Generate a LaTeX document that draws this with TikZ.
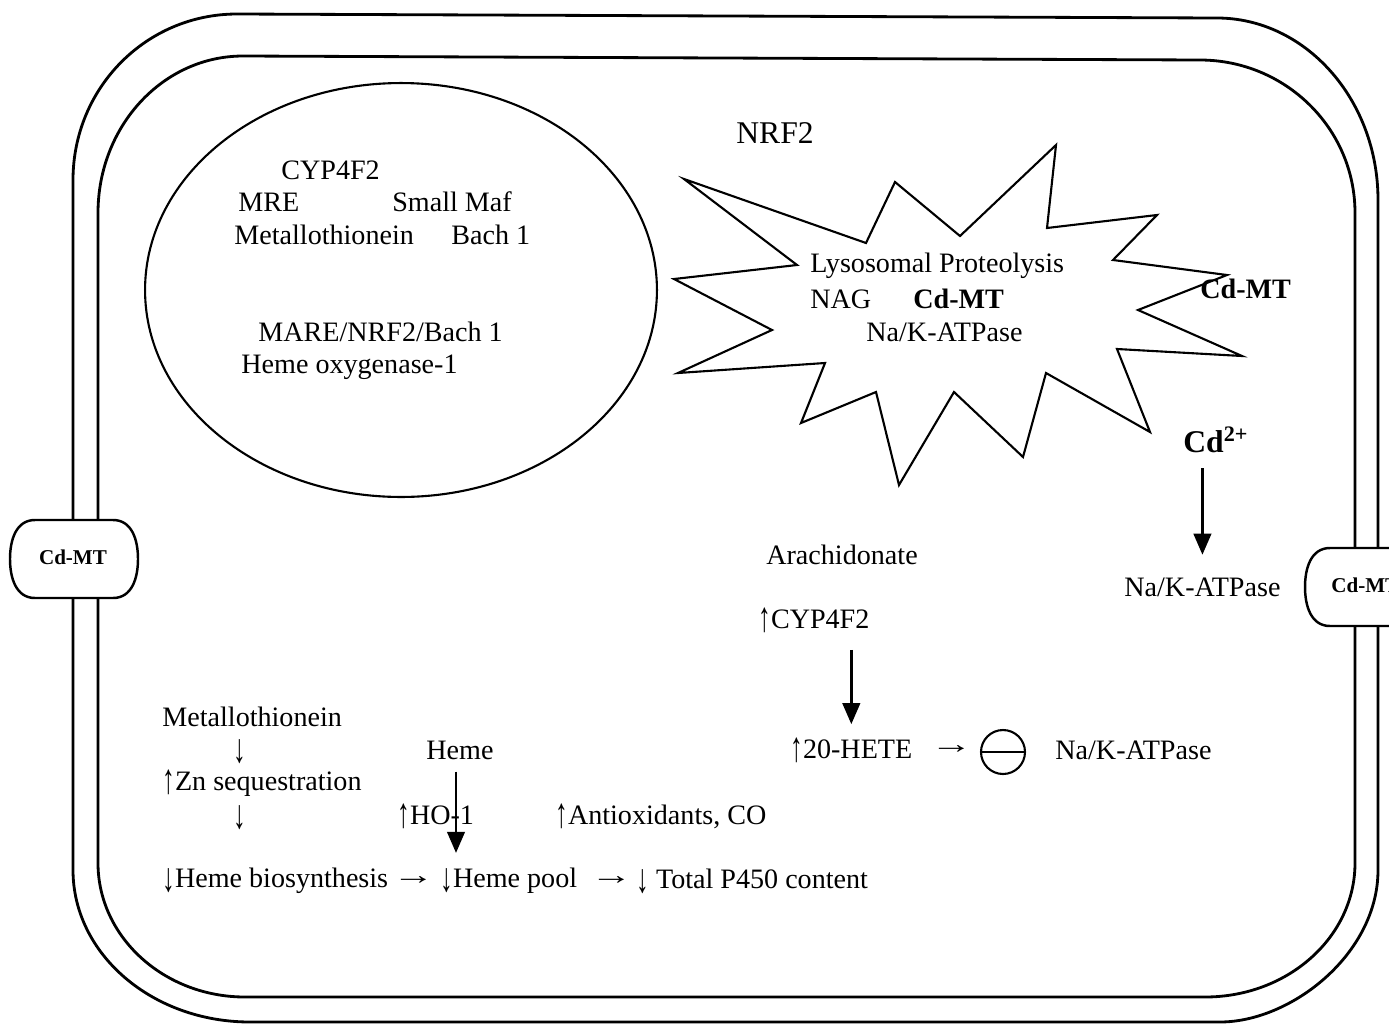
\documentclass[tikz,border=0pt]{standalone}
\usepackage{fontspec}
\setmainfont{Liberation Serif}
\usetikzlibrary{arrows.meta}
\newcommand{\myup}{\raisebox{-0.1em}{\scalebox{0.9}[1.5]{↑}}}
\newcommand{\mydn}{\raisebox{-0.15em}{\scalebox{0.9}[1.45]{↓}}}
\newcommand{\myra}{\scalebox{1.5}[1]{→}}
\tikzset{
  txt/.style={inner sep=0pt, anchor=west, font=\fontsize{16}{19}\selectfont},
  txtb/.style={inner sep=0pt, anchor=west, font=\fontsize{16}{19}\selectfont\bfseries},
  boxtxt/.style={inner sep=0pt, anchor=west, font=\fontsize{12}{14}\selectfont\bfseries},
  cellline/.style={line width=1.6pt},
  membox/.style={line width=1.4pt, fill=white},
  starline/.style={line width=1.2pt, line join=miter},
  bigarrow/.style={line width=1.4pt, -{Triangle[length=12pt,width=10pt]}},
}
\begin{document}
\begin{tikzpicture}[x=0.02cm, y=-0.02cm]
\useasboundingbox (0,0) rectangle (1389,1025);
\begin{scope}
\clip (0,0) rectangle (1389,1025);
% outer cell wall
\draw[cellline] (73,180) .. controls (73,88) and (146,14) .. (237,14)
  -- (1217,18) .. controls (1305,18) and (1378,99) .. (1378,200)
  -- (1378,870) .. controls (1378,954) and (1291,1022) .. (1220,1022)
  -- (250,1022) .. controls (152,1022) and (73,954) .. (73,870) -- cycle;
% inner cell wall
\draw[cellline] (98,213) .. controls (98,126) and (163,56) .. (243,56)
  -- (1200,60) .. controls (1285,60) and (1355,128) .. (1355,213)
  -- (1355,863) .. controls (1355,937) and (1288,997) .. (1205,997)
  -- (245,997) .. controls (164,997) and (98,937) .. (98,863) -- cycle;
% membrane transporters
\draw[membox] (35,520) -- (113,520) .. controls (132,520) and (138,540) .. (138,559)
  .. controls (138,578) and (132,598) .. (113,598) -- (35,598)
  .. controls (16,598) and (10,578) .. (10,559) .. controls (10,540) and (16,520) .. (35,520) -- cycle;
\node[boxtxt, anchor=center] (mtl) at (73,557) {Cd-MT};
\draw[membox] (1430,548) -- (1330,548) .. controls (1311,548) and (1305,568) .. (1305,587)
  .. controls (1305,606) and (1311,626) .. (1330,626) -- (1430,626) -- cycle;
\node[boxtxt] (mtr) at (1331,585) {Cd-MT};
\end{scope}

% nucleus
\draw[line width=1.2pt] (401,290) ellipse [x radius=5.12cm, y radius=4.14cm];
\node[txt] (cyp) at (281,170) {CYP4F2};
\node[txt] (mre) at (238,202) {MRE};
\node[txt] (maf) at (392,202) {Small Maf};
\node[txt] (mt) at (234,235) {Metallothionein};
\node[txt] (bach) at (451,235) {Bach 1};
\node[txt] (mare) at (258,332) {MARE/NRF2/Bach 1};
\node[txt] (hox) at (241,367) {Heme oxygenase-1};

% NRF2 star
\node[inner sep=0pt, font=\fontsize{18}{21}\selectfont] (nrf) at (775,133) {NRF2};
\draw[starline] (684,179) -- (866,243) -- (895,182) -- (960,236) -- (1056,145)
  -- (1047,228) -- (1157,215) -- (1113,260) -- (1227,275) -- (1138,310)
  -- (1242,356) -- (1117,349) -- (1150,432) -- (1046,373) -- (1023,457)
  -- (954,392) -- (899,485) -- (876,392) -- (801,423) -- (825,363)
  -- (678,373) -- (772,330) -- (674,279) -- (797,265) -- cycle;
\node[txt] (lys) at (810,266) {Lysosomal Proteolysis};
\node[txt] (nag) at (810,299) {NAG};
\node[txtb] (cdmts) at (913,299) {Cd-MT};
\node[txt] (naks) at (866,332) {Na/K-ATPase};
\node[txtb] (cdmtr) at (1200,289) {Cd-MT};

% Cd2+ pathway
\node[inner sep=0pt, anchor=west, font=\fontsize{18}{21}\selectfont\bfseries] (cd) at (1183,440) {Cd\textsuperscript{2+}};
\node[txt] (nak1) at (1124,587) {Na/K-ATPase};
\draw[bigarrow, shorten <=0.3cm, shorten >=0.45cm] (cd.south -| nak1.north) -- (nak1.north);

% arachidonate pathway
\node[txt, anchor=center] (arach) at (842,555) {Arachidonate};
\node[txt] (cyp2) at (758,620) {\myup CYP4F2};
\node[txt] (hete) at (790,750) {\myup 20-HETE};
\draw[bigarrow, shorten <=0.34cm, shorten >=0.26cm] (cyp2.south -| hete.north) -- (hete.north);
\node[txt] (ar3) at (930,750) {\myra};
\node[circle, draw, line width=1.2pt, minimum size=0.88cm, inner sep=0pt] (inh) at (1003,752) {};
\draw[line width=1.2pt] (inh.west) -- (inh.east);
\node[txt] (nak2) at (1055,750) {Na/K-ATPase};

% metallothionein / heme pathway
\node[txt] (mt2) at (162,717) {Metallothionein};
\node[txt] (d1) at (233,752) {\mydn};
\node[txt] (zn) at (162,783) {\myup Zn sequestration};
\node[txt] (d2) at (233,818) {\mydn};
\node[txt, anchor=center] (heme) at (460,750) {Heme};
\node[txt] (ho) at (397,816) {\myup HO-1};
\node[txt] (anti) at (555,816) {\myup Antioxidants, CO};
\node[txt] (hb) at (162,881) {\mydn Heme biosynthesis};
\node[txt] (ar1) at (392,881) {\myra};
\node[txt] (hp) at (440,881) {\mydn Heme pool};
\node[txt] (ar2) at (590,881) {\myra};
\node[txt] (tp) at (636,881) {\mydn\ Total P450 content};
\draw[bigarrow, shorten <=0.24cm, shorten >=0.3cm] ([xshift=-0.08cm]heme.south) -- ([xshift=-0.08cm]heme.south |- hp.north);
\end{tikzpicture}
\end{document}
